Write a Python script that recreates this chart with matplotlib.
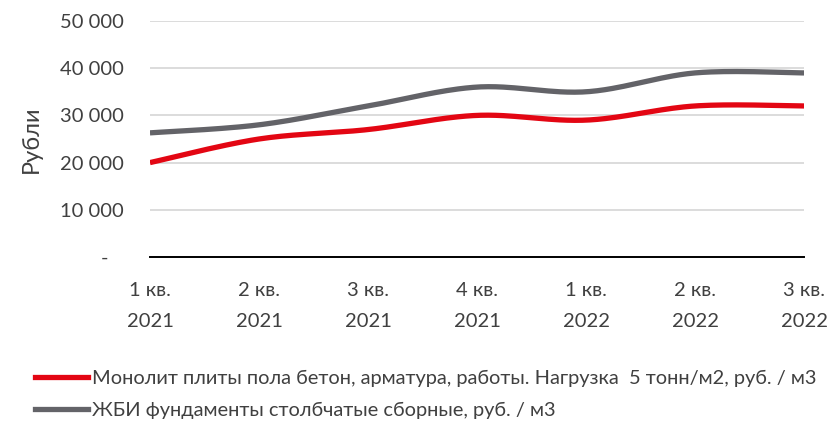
import numpy as np
import matplotlib
matplotlib.use('Agg')
import matplotlib.pyplot as plt
from matplotlib.lines import Line2D

quarters = ['1 кв.\n2021', '2 кв.\n2021', '3 кв.\n2021', '4 кв.\n2021',
            '1 кв.\n2022', '2 кв.\n2022', '3 кв.\n2022']
monolit = [20000, 25000, 27000, 30000, 29000, 32000, 32000]
zhbi = [26300, 28000, 32000, 36000, 35000, 39000, 39000]
y_ticks = [0, 10000, 20000, 30000, 40000, 50000]
y_labels = ['-   ', '10 000', '20 000', '30 000', '40 000', '50 000']

labels = ['Монолит плиты пола бетон, арматура, работы. Нагрузка  5 тонн/м2, руб. / м3',
          'ЖБИ фундаменты столбчатые сборные, руб. / м3']
colors = ['#E30613', '#636368']

plt.rcParams['font.family'] = ['Lato', 'DejaVu Sans']


def smooth(y, n=30):
    # Excel-like smoothing: cubic Bezier segments, Catmull-Rom control points
    y = np.asarray(y, dtype=float)
    x = np.arange(len(y), dtype=float)
    px = np.concatenate([[x[0]], x, [x[-1]]])
    py = np.concatenate([[y[0]], y, [y[-1]]])
    t = np.linspace(0, 1, n)[:, None]
    xs, ys = [], []
    for i in range(1, len(px) - 2):
        p0 = np.array([px[i], py[i]])
        p3 = np.array([px[i + 1], py[i + 1]])
        c1 = p0 + (np.array([px[i + 1], py[i + 1]]) - np.array([px[i - 1], py[i - 1]])) / 6
        c2 = p3 - (np.array([px[i + 2], py[i + 2]]) - p0) / 6
        b = ((1 - t) ** 3) * p0 + 3 * ((1 - t) ** 2) * t * c1 + 3 * (1 - t) * t ** 2 * c2 + t ** 3 * p3
        xs.append(b[:, 0])
        ys.append(b[:, 1])
    return np.concatenate(xs), np.concatenate(ys)


fig = plt.figure(figsize=(8.3, 4.25), dpi=100)
ax = fig.add_axes([0.1807, 0.3953, 0.7880, 0.5553])

for series, c in zip([monolit, zhbi], colors):
    sx, sy = smooth(series)
    ax.plot(sx, sy, color=c, lw=3.8, solid_capstyle='butt', zorder=3)

ax.set_xlim(0, len(quarters) - 1)
ax.set_ylim(0, 50000)
ax.set_yticks(y_ticks)
ax.set_yticklabels(y_labels, fontsize=14.5, color='#404040')
ax.set_xticks(range(len(quarters)))
ax.set_xticklabels(quarters, fontsize=14.5, color='#404040', linespacing=2.0)
ax.tick_params(axis='both', length=0)
ax.tick_params(axis='y', pad=19)
ax.tick_params(axis='x', pad=18)
ax.grid(axis='y', color='#D9D9D9', lw=1.3)
ax.set_axisbelow(True)
for s in ['top', 'right', 'left']:
    ax.spines[s].set_visible(False)
ax.spines['bottom'].set_color('black')
ax.spines['bottom'].set_linewidth(1.4)
ax.spines['bottom'].set_zorder(4)

ax.set_ylabel('Рубли', fontsize=17, color='#404040')
ax.yaxis.set_label_coords(-0.165, 0.5)

handles = [Line2D([0], [0], color=c, lw=3.8) for c in colors]
fig.legend(handles, labels, loc='upper left', bbox_to_anchor=(0.042, 0.13),
           ncol=1, frameon=False, handlelength=2.65, handletextpad=0.2,
           labelspacing=0.75, borderaxespad=0, borderpad=0,
           prop={'family': ['Lato', 'DejaVu Sans'], 'size': 14.4},
           labelcolor='#404040')

fig.savefig('out.png', dpi=100)
